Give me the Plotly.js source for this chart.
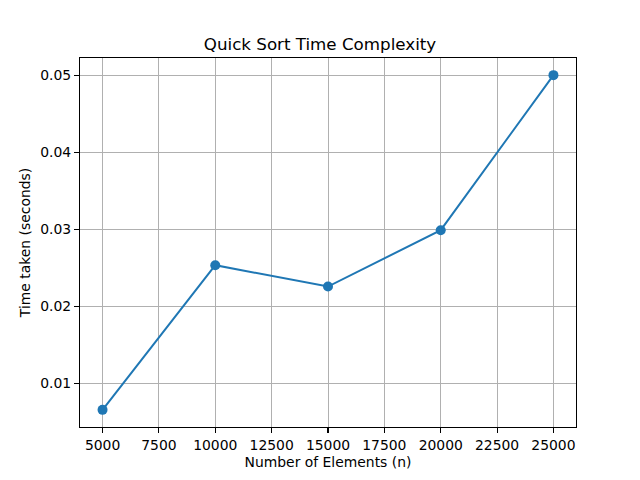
<!DOCTYPE html>
<html>
<head>
<meta charset="utf-8">
<script src="https://cdn.plot.ly/plotly-3.0.1.min.js"></script>
<style>html,body{margin:0;padding:0;background:#fff;}#chart{width:640px;height:480px;}</style>
</head>
<body>
<div id="chart"></div>
<script>
const sizes = [5000, 10000, 15000, 20000, 25000];
const times = [0.00654, 0.02532, 0.02255, 0.02987, 0.0500];
const xTicks = [5000, 7500, 10000, 12500, 15000, 17500, 20000, 22500, 25000];
const yTicks = [0.01, 0.02, 0.03, 0.04, 0.05];

const font = {family: 'DejaVu Sans', size: 13.9, color: '#000'};
const trace = {
  x: sizes, y: times, type: 'scatter', mode: 'lines+markers',
  line: {color: '#1f77b4', width: 2},
  marker: {color: '#1f77b4', size: 10},
  showlegend: false
};
const layout = {
  width: 640, height: 480,
  paper_bgcolor: '#fff', plot_bgcolor: '#fff',
  margin: {l: 80, r: 64, t: 57.6, b: 52.8, pad: 0},
  font: font,
  title: {text: 'Quick Sort Time Complexity', font: {family: 'DejaVu Sans', size: 16.7, color: '#000'}, x: 0.5, xanchor: 'center', y: 1 - 44/480, yanchor: 'middle'},
  xaxis: {
    range: [4000, 26000], tickvals: xTicks, ticktext: xTicks.map(String),
    showgrid: true, gridcolor: '#b0b0b0', gridwidth: 1,
    showline: true, linecolor: '#000', linewidth: 1.1, mirror: true,
    ticks: 'outside', ticklen: 4.9, tickwidth: 1.1, tickcolor: '#000',
    zeroline: false, tickfont: font,
    title: {text: 'Number of Elements (n)', font: font, standoff: 5}
  },
  yaxis: {
    range: [0.004313, 0.052227], tickvals: yTicks, ticktext: yTicks.map(v => v.toFixed(2)),
    showgrid: true, gridcolor: '#b0b0b0', gridwidth: 1,
    showline: true, linecolor: '#000', linewidth: 1.1, mirror: true,
    ticks: 'outside', ticklen: 4.9, tickwidth: 1.1, tickcolor: '#000',
    zeroline: false, tickfont: font,
    title: {text: 'Time taken (seconds)', font: font, standoff: 6}
  }
};
Plotly.newPlot('chart', [trace], layout, {displayModeBar: false, staticPlot: true});
</script>
</body>
</html>
